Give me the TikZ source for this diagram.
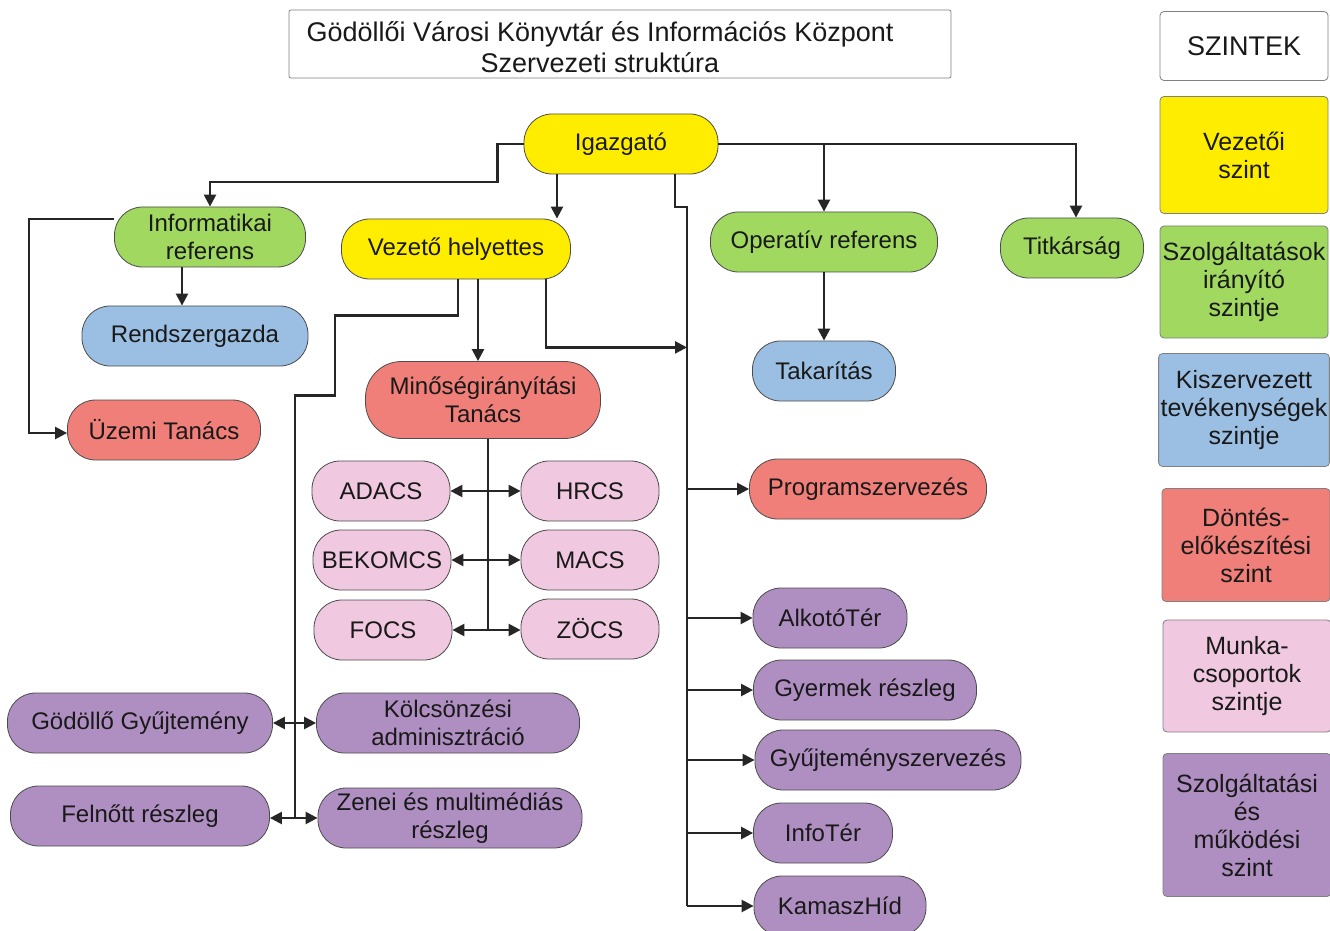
\documentclass[tikz,border=0pt]{standalone}
\usepackage{fontspec}
\setmainfont{Liberation Sans}
\usetikzlibrary{arrows.meta,calc}
\definecolor{vez}{HTML}{FFED00}
\definecolor{szolg}{HTML}{A0D860}
\definecolor{kisz}{HTML}{9BBFE3}
\definecolor{dont}{HTML}{EF7F78}
\definecolor{munka}{HTML}{F0C8E0}
\definecolor{mukod}{HTML}{AF8FC1}
\begin{document}
\begin{tikzpicture}[x=0.5pt,y=-0.5pt,
    >={Triangle[length=6pt,width=6pt]},
    box/.style={draw=black!70, rounded corners=14pt, minimum height=30pt, inner sep=1pt,
      align=center, text=black!90, font=\fontsize{12}{14}\selectfont},
    level/.style={draw=black!50, rounded corners=2pt, minimum width=84pt, inner sep=1pt,
      align=center, text=black!90, font=\fontsize{12.5}{14}\selectfont},
    conn/.style={line width=1.2pt, draw=black!85}]
  \useasboundingbox (0,0) rectangle (1330,931);

  % cim
  \node[draw=black!50, rounded corners=1pt, minimum width=331pt, minimum height=34pt] (title) at (620,44) {};
  \node[align=center, font=\fontsize{13.5}{15.5}\selectfont, text=black!90] (titletext) at ($(title.center)+(-20,3)$)
    {Gödöllői Városi Könyvtár és Információs Központ\\Szervezeti struktúra};

  % vezetoi szint
  \node[box, fill=vez, minimum width=97pt]    (igazgato) at (621,144) {Igazgató};
  \node[box, fill=vez, minimum width=114.5pt] (vezhely)  at (456,249) {Vezető helyettes};
  % szolgaltatasok iranyito szintje
  \node[box, fill=szolg, minimum width=95.5pt]  (inforef) at (210,237) {Informatikai\\referens};
  \node[box, fill=szolg, minimum width=113.5pt] (opref)   at (824,242) {Operatív referens};
  \node[box, fill=szolg, minimum width=71.5pt]  (titkar)  at (1072,248) {Titkárság};
  % kiszervezett tevekenysegek
  \node[box, fill=kisz, minimum width=113pt]  (rendszer)  at (195,336) {Rendszergazda};
  \node[box, fill=kisz, minimum width=71.5pt] (takaritas) at (824,371) {Takarítás};
  % dontes-elokeszites
  \node[box, fill=dont, minimum width=96.5pt] (uzemi) at (164,430) {Üzemi Tanács};
  \node[box, fill=dont, minimum width=117.5pt, minimum height=38.5pt, rounded corners=18pt]
    (minoseg) at (483,400) {Minőségirányítási\\Tanács};
  \node[box, fill=dont, minimum width=118.5pt] (program) at (868,489) {Programszervezés};
  % munkacsoportok
  \node[box, fill=munka, minimum width=69pt] (adacs)   at (381,491) {ADACS};
  \node[box, fill=munka, minimum width=69pt] (hrcs)    at (590,491) {HRCS};
  \node[box, fill=munka, minimum width=69pt] (bekomcs) at (382,560) {BEKOMCS};
  \node[box, fill=munka, minimum width=69pt] (macs)    at (590,560) {MACS};
  \node[box, fill=munka, minimum width=69pt] (focs)    at (383,630) {FOCS};
  \node[box, fill=munka, minimum width=69pt] (zocs)    at (590,629) {ZÖCS};
  % szolgaltatasi es mukodesi szint
  \node[box, fill=mukod, minimum width=132.5pt] (gyujt)   at (140,723) {Gödöllő Gyűjtemény};
  \node[box, fill=mukod, minimum width=131.5pt] (kolcson) at (448,723) {Kölcsönzési\\adminisztráció};
  \node[box, fill=mukod, minimum width=129.5pt] (felnott) at (140,816) {Felnőtt részleg};
  \node[box, fill=mukod, minimum width=132pt]   (zenei)   at (450,818) {Zenei és multimédiás\\részleg};
  \node[box, fill=mukod, minimum width=77pt]    (alkoto)     at (830,618) {AlkotóTér};
  \node[box, fill=mukod, minimum width=111.5pt] (gyermek)    at (865,690) {Gyermek részleg};
  \node[box, fill=mukod, minimum width=133pt]   (gyujtszerv) at (888,760) {Gyűjteményszervezés};
  \node[box, fill=mukod, minimum width=69.5pt]  (infoter)    at (823,833) {InfoTér};
  \node[box, fill=mukod, minimum width=86pt]    (kamasz)     at (840,906) {KamaszHíd};

  % szintek
  \node[level, fill=white, minimum height=34.5pt, font=\fontsize{13.5}{15}\selectfont] (szintek) at (1244,46) {SZINTEK};
  \node[level, fill=vez,   minimum height=58.5pt] (lvez)   at (1244,155) {Vezetői\\szint};
  \node[level, fill=szolg, minimum height=56pt]   (lszolg) at (1244,282) {Szolgáltatások\\irányító\\szintje};
  \node[level, fill=kisz,  minimum height=56.5pt] (lkisz)  at (1244,410) {Kiszervezett\\tevékenységek\\szintje};
  \node[level, fill=dont,  minimum height=56.5pt] (ldont)  at (1246,545) {Döntés-\\előkészítési\\szint};
  \node[level, fill=munka, minimum height=56pt]   (lmunka) at (1247,676) {Munka-\\csoportok\\szintje};
  \node[level, fill=mukod, minimum height=71.5pt] (lmukod) at (1247,825) {Szolgáltatási\\és\\működési\\szint};

  % kapcsolatok
  \coordinate (trunk) at (687,207);
  \coordinate (ltrunk) at (295,818);
  \draw[conn,->] (igazgato.west) -- ++(-26,0) -- ++(0,38) -| (inforef.north);
  \draw[conn,->] ($(igazgato.south)+(-64,0)$) coordinate (a) -- (a |- vezhely.north);
  \draw[conn] ($(igazgato.south)+(54,0)$) |- (trunk) -- (trunk |- kamasz.west);
  \foreach \n in {program,alkoto,gyermek,gyujtszerv,infoter,kamasz}
    \draw[conn,->] (trunk |- \n.west) -- (\n.west);
  \draw[conn,->] (igazgato.east) -| ($(titkar.north)+(4,0)$);
  \draw[conn,->] (igazgato.east -| opref.north) -- (opref.north);
  \draw[conn,->] (opref.south) -- (takaritas.north);
  \draw[conn,->] ($(inforef.south)+(-28,0)$) coordinate (b) -- (b |- rendszer.north);
  \draw[conn,->] ($(inforef.west)+(0,-18)$) -- ++(-85,0) |- ($(uzemi.west)+(0,3)$);
  \draw[conn,->] ($(vezhely.south)+(22,0)$) coordinate (c) -- (c |- minoseg.north);
  \draw[conn,->] ($(vezhely.south)+(90,0)$) -- ++(0,68) coordinate (d) -- (d -| trunk);
  \draw[conn] ($(vezhely.south)+(2,0)$) -- ++(0,36) -- ++(-123,0) -- ++(0,80) -- ++(-40,0) -- (ltrunk);
  \draw[conn,<->] (gyujt.east) -- (kolcson.west);
  \draw[conn,<->] ($(felnott.east)+(0,2)$) coordinate (f) -- (f -| zenei.west);
  \draw[conn] ($(minoseg.south)+(5,0)$) coordinate (e) -- (e |- focs.east);
  \foreach \a/\b in {adacs/hrcs,bekomcs/macs,focs/zocs}
    \draw[conn,<->] (\a.east) -- (\a.east -| \b.west);
\end{tikzpicture}
\end{document}
